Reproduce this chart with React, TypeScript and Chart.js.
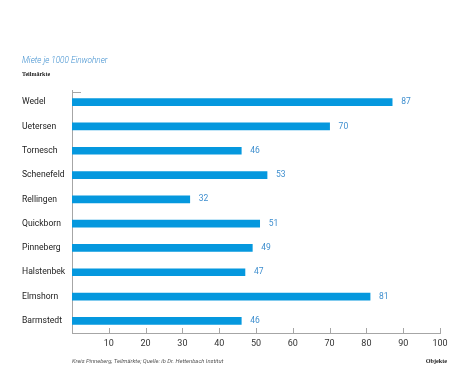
import React, { useEffect, useRef } from "react";
import { Chart, registerables } from "chart.js";

Chart.register(...registerables);

const categories = ["Wedel", "Uetersen", "Tornesch", "Schenefeld", "Rellingen", "Quickborn", "Pinneberg", "Halstenbek", "Elmshorn", "Barmstedt"];
const values = [87, 70, 46, 53, 32, 51, 49, 47, 81, 46];
const xTicks = [10, 20, 30, 40, 50, 60, 70, 80, 90, 100];
const title = "Miete je 1000 Einwohner";
const subtitle = "Teilmärkte";
const source = "Kreis Pinneberg, Teilmärkte; Quelle: ib Dr. Hettenbach Institut";
const unitLabel = "Objekte";

const BAR = "#0598de";
const LABEL_BLUE = "#3f8fcf";
const AXIS = "#a6a6a6";

const overlay = {
  id: "overlay",
  afterDraw(chart: any) {
    const ctx = chart.ctx;
    const area = chart.chartArea;
    const xs = chart.scales.x;
    ctx.save();
    ctx.strokeStyle = AXIS;
    ctx.lineWidth = 1;
    xTicks.forEach((v) => {
      const px = Math.round(xs.getPixelForValue(v)) + 0.5;
      ctx.beginPath();
      ctx.moveTo(px, area.bottom);
      ctx.lineTo(px, area.bottom - 5);
      ctx.stroke();
    });
    ctx.beginPath();
    ctx.moveTo(area.left, area.top + 2.5);
    ctx.lineTo(area.left + 9, area.top + 2.5);
    ctx.stroke();
    const meta = chart.getDatasetMeta(0);
    ctx.fillStyle = LABEL_BLUE;
    ctx.font = "8.5px Roboto";
    ctx.textBaseline = "middle";
    ctx.textAlign = "left";
    meta.data.forEach((el: any, i: number) => {
      ctx.fillText(String(values[i]), el.x + 9, el.y);
    });
    ctx.fillStyle = "#3f8fcf";
    ctx.font = "italic 300 8.2px Roboto";
    ctx.fillText(title, 22, 61);
    ctx.fillStyle = "#222";
    ctx.font = "bold 6px 'Liberation Serif'";
    ctx.fillText(subtitle, 22, 74);
    ctx.fillStyle = "#555";
    ctx.font = "italic 5.8px Roboto";
    ctx.fillText(source, 72, 362);
    ctx.fillStyle = "#222";
    ctx.font = "bold 6.2px 'Liberation Serif'";
    ctx.textAlign = "right";
    ctx.fillText(unitLabel, 447, 361);
    ctx.restore();
  },
};

export default function App() {
  const ref = useRef<HTMLCanvasElement>(null);
  useEffect(() => {
    if (!ref.current) return;
    const chart = new Chart(ref.current, {
      type: "bar",
      data: {
        labels: categories,
        datasets: [
          {
            data: values,
            backgroundColor: BAR,
            barThickness: 7,
            borderWidth: 0,
          },
        ],
      },
      plugins: [overlay],
      options: {
        animation: false,
        responsive: false,
        indexAxis: "y",
        layout: { padding: { left: 22, right: 34, top: 90, bottom: 0 } },
        plugins: { legend: { display: false }, tooltip: { enabled: false }, title: { display: false } },
        scales: {
          x: {
            min: 0,
            max: 100,
            grid: { display: false, drawTicks: false },
            border: { display: true, color: AXIS, width: 1 },
            ticks: {
              stepSize: 10,
              padding: 5,
              color: "#333",
              font: { family: "Roboto", size: 9 },
              callback: (v: any) => (xTicks.includes(Number(v)) ? String(v) : ""),
            },
            afterFit: (s: any) => {
              s.height = 52;
            },
          },
          y: {
            grid: { display: false, drawTicks: false },
            border: { display: true, color: AXIS, width: 1 },
            ticks: {
              crossAlign: "far",
              padding: 0,
              color: "#222",
              font: { family: "Roboto", size: 8.6 },
            },
            afterFit: (s: any) => {
              s.width = 50;
            },
          },
        },
      },
    });
    return () => chart.destroy();
  }, []);
  return (
    <div style={{ position: "absolute", left: 0, top: 0, width: 474, height: 385, background: "#fff" }}>
      <canvas ref={ref} width={474} height={385} style={{ display: "block", width: 474, height: 385 }} />
    </div>
  );
}
